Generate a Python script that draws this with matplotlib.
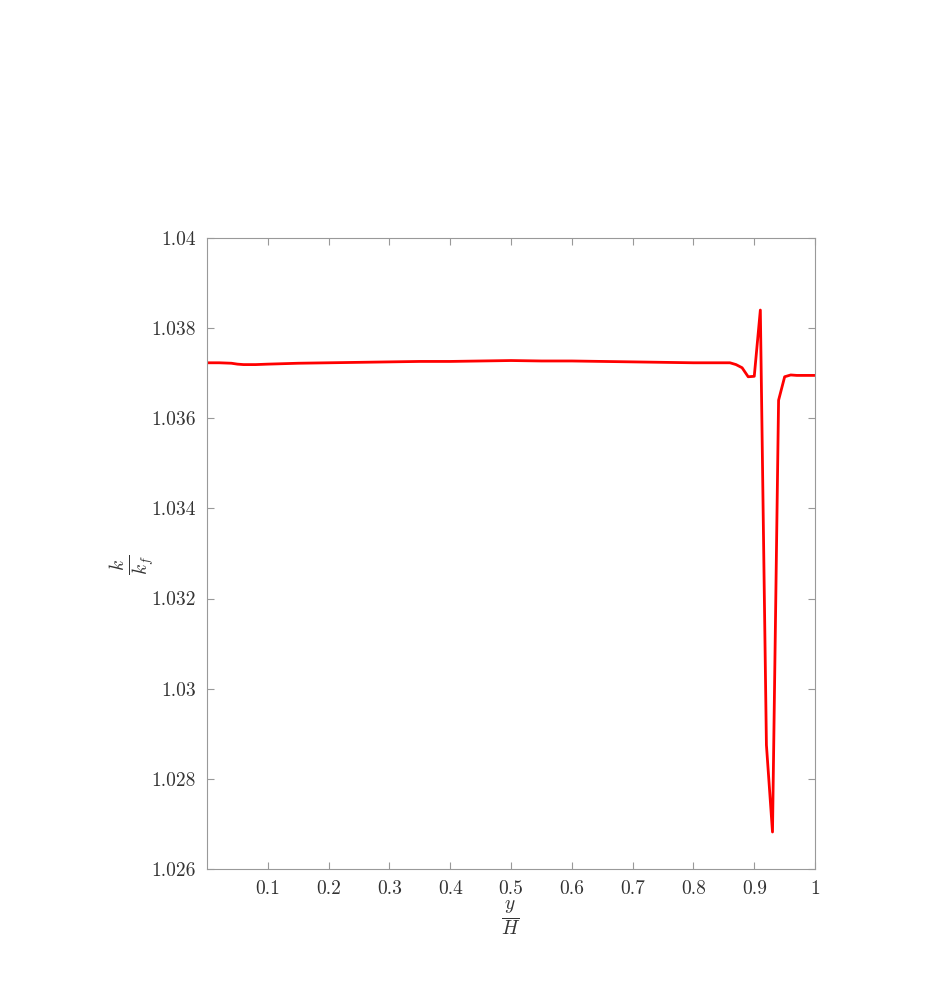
import numpy as np
import matplotlib
matplotlib.use("Agg")
import matplotlib.pyplot as plt

plt.rcParams['mathtext.fontset'] = 'cm'
plt.rcParams['font.family'] = ['cmr10', 'DejaVu Serif']
plt.rcParams['axes.formatter.use_mathtext'] = True

# y/H positions and k/k_f values
y_over_h = [0.0, 0.02, 0.04, 0.05, 0.06, 0.08, 0.10, 0.15, 0.20, 0.25, 0.30,
            0.35, 0.40, 0.45, 0.50, 0.55, 0.60, 0.65, 0.70, 0.75, 0.80, 0.85,
            0.86, 0.87, 0.88, 0.89, 0.90, 0.91, 0.92, 0.93, 0.94, 0.95, 0.96,
            0.97, 0.98, 0.99, 1.0]
k_ratio = [1.03723, 1.03723, 1.03722, 1.03720, 1.03719, 1.03719, 1.03720,
           1.03722, 1.03723, 1.03724, 1.03725, 1.03726, 1.03726, 1.03727,
           1.03728, 1.03727, 1.03727, 1.03726, 1.03725, 1.03724, 1.03723,
           1.03723, 1.03723, 1.03719, 1.03712, 1.03692, 1.03693, 1.03840,
           1.02875, 1.02682, 1.03640, 1.03692, 1.03696, 1.03695, 1.03695,
           1.03695, 1.03695]

x_ticks = [0.1, 0.2, 0.3, 0.4, 0.5, 0.6, 0.7, 0.8, 0.9, 1.0]
x_tick_labels = ['0.1', '0.2', '0.3', '0.4', '0.5', '0.6', '0.7', '0.8', '0.9', '1']
y_ticks = [1.026, 1.028, 1.030, 1.032, 1.034, 1.036, 1.038, 1.040]
y_tick_labels = ['1.026', '1.028', '1.03', '1.032', '1.034', '1.036', '1.038', '1.04']

fig = plt.figure(figsize=(9.28, 9.84), dpi=100)
ax = fig.add_axes([0.2231, 0.1169, 0.6552, 0.6413])

ax.plot(y_over_h, k_ratio, color='red', linewidth=2.0)

ax.set_xlim(0, 1)
ax.set_ylim(1.026, 1.04)
ax.set_xticks(x_ticks)
ax.set_xticklabels(x_tick_labels)
ax.set_yticks(y_ticks)
ax.set_yticklabels(y_tick_labels)

grey = '#999999'
for s in ax.spines.values():
    s.set_color(grey)
    s.set_linewidth(0.8)
ax.tick_params(direction='in', length=5, width=0.8, color=grey,
               labelsize=14, labelcolor='#333333',
               top=True, right=True, pad=8)

ax.set_xlabel(r'$\frac{y}{H}$', fontsize=20, color='#333333')
ax.xaxis.set_label_coords(0.5, -0.047)
ax.set_ylabel(r'$\frac{k}{k_f}$', fontsize=20, color='#333333')
ax.yaxis.set_label_coords(-0.083, 0.482)

fig.savefig('out.png', dpi=100)
